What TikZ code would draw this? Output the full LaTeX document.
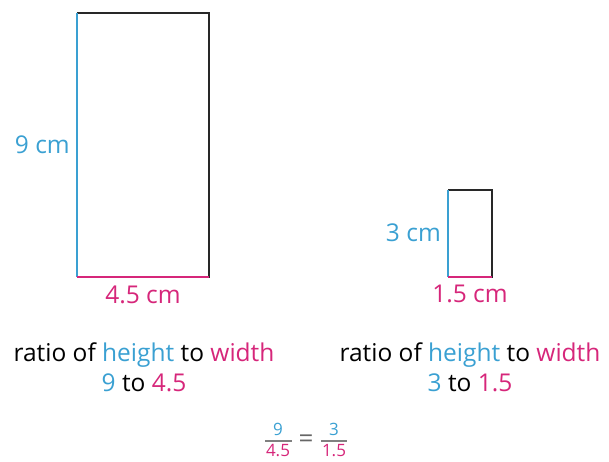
\documentclass[tikz,border=0pt]{standalone}
\usepackage{fontspec}
\setmainfont{Open Sans}
\definecolor{hblue}{RGB}{58,160,210}
\definecolor{wmag}{RGB}{214,38,122}
\definecolor{edge}{RGB}{40,40,40}
\begin{document}
\begin{tikzpicture}[x=1pt,y=-1pt,
  lbl/.style={font=\fontsize{24.5}{28}\selectfont, inner sep=0pt},
  frac/.style={font=\fontsize{17}{19}\selectfont, inner sep=0pt},
  side/.style={line width=1.8pt}]
\useasboundingbox (0,0) rectangle (609,461);
% large rectangle
\coordinate (A1) at (77,13);
\coordinate (A2) at (209,13);
\coordinate (A3) at (209,277);
\coordinate (A4) at (77,277);
\draw[side,edge] (A4) -- (A3) -- (A2) -- (A1);
\draw[side,hblue] (A1) -- (A4);
\draw[side,wmag] (A4) -- (A3);
% small rectangle
\coordinate (B1) at (448,190);
\coordinate (B2) at (492,190);
\coordinate (B3) at (492,277);
\coordinate (B4) at (448,277);
\draw[side,edge] (B4) -- (B3) -- (B2) -- (B1);
\draw[side,hblue] (B1) -- (B4);
\draw[side,wmag] (B4) -- (B3);
% labels
\node[lbl,text=hblue,anchor=east] (h1) at (70,145) {9 cm};
\node[lbl,text=wmag] (w1) at (143,295) {4.5 cm};
\node[lbl,text=hblue,anchor=east] (h2) at (441,233) {3 cm};
\node[lbl,text=wmag] (w2) at (470,294) {1.5 cm};
\node[lbl] (r1) at (144,355) {ratio of \textcolor{hblue}{height} to \textcolor{wmag}{width}};
\node[lbl] (v1) at (144,383) {\textcolor{hblue}{9} to \textcolor{wmag}{4.5}};
\node[lbl] (r2) at (470,355) {ratio of \textcolor{hblue}{height} to \textcolor{wmag}{width}};
\node[lbl] (v2) at (470,383) {\textcolor{hblue}{3} to \textcolor{wmag}{1.5}};
% fraction
\node[frac,text=hblue] (n1) at (278,429) {9};
\node[frac,text=wmag] (d1) at (278,451) {4.5};
\draw[line width=1.3pt,gray] (265,441) -- (292,441);
\node[frac,text=gray!80!black,font=\fontsize{26}{28}\selectfont] (eq) at (306,441) {=};
\node[frac,text=hblue] (n2) at (334,429) {3};
\node[frac,text=wmag] (d2) at (334,451) {1.5};
\draw[line width=1.3pt,gray] (321,441) -- (347,441);
\end{tikzpicture}
\end{document}
